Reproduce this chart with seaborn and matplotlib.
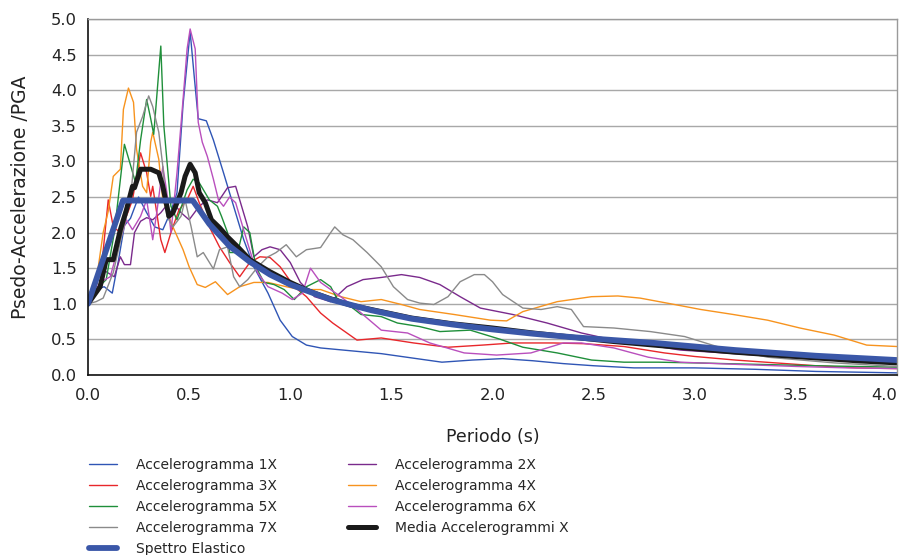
import matplotlib
matplotlib.use("Agg")
import matplotlib.pyplot as plt
import seaborn as sns
import numpy as np

# ---------------- data ----------------
T1 = [0, 0.04, 0.08, 0.12, 0.15, 0.18, 0.21, 0.25, 0.29, 0.33, 0.37, 0.41, 0.44, 0.47, 0.505, 0.525, 0.545, 0.585, 0.62, 0.67, 0.72, 0.77, 0.82, 0.89, 0.95, 1.01, 1.08, 1.15, 1.3, 1.45, 1.6, 1.75, 1.9, 2.05, 2.2, 2.35, 2.5, 2.7, 3.0, 3.3, 3.6, 3.8, 4.0]
A1 = [1.0, 1.2, 1.24, 1.15, 1.6, 2.1, 2.2, 2.5, 2.28, 2.08, 2.04, 2.3, 2.56, 3.8, 4.82, 4.2, 3.6, 3.57, 3.3, 2.84, 2.37, 1.9, 1.52, 1.15, 0.77, 0.54, 0.42, 0.38, 0.34, 0.30, 0.24, 0.18, 0.21, 0.23, 0.2, 0.16, 0.13, 0.10, 0.10, 0.08, 0.05, 0.04, 0.03]

T2 = [0, 0.03, 0.06, 0.09, 0.13, 0.16, 0.18, 0.21, 0.23, 0.26, 0.29, 0.32, 0.36, 0.41, 0.46, 0.5, 0.55, 0.59, 0.64, 0.69, 0.73, 0.75, 0.79, 0.82, 0.86, 0.9, 0.95, 1.0, 1.05, 1.12, 1.2, 1.28, 1.36, 1.45, 1.55, 1.64, 1.74, 1.84, 1.94, 2.1, 2.27, 2.44, 2.6, 2.77, 2.93, 3.2, 3.5, 3.75, 4.0]
A2 = [1.0, 1.2, 1.5, 1.45, 1.38, 1.66, 1.55, 1.55, 2.0, 2.16, 2.21, 2.18, 2.28, 2.46, 2.28, 2.18, 2.37, 2.46, 2.42, 2.63, 2.65, 2.46, 2.08, 1.66, 1.76, 1.8, 1.76, 1.58, 1.3, 1.1, 1.03, 1.24, 1.34, 1.37, 1.41, 1.37, 1.27, 1.1, 0.94, 0.85, 0.73, 0.59, 0.49, 0.42, 0.35, 0.3, 0.24, 0.2, 0.17]

T3 = [0, 0.04, 0.07, 0.1, 0.125, 0.16, 0.19, 0.22, 0.26, 0.29, 0.31, 0.32, 0.36, 0.38, 0.41, 0.45, 0.49, 0.52, 0.55, 0.6, 0.65, 0.7, 0.75, 0.8, 0.85, 0.9, 0.95, 1.02, 1.08, 1.15, 1.21, 1.28, 1.33, 1.45, 1.61, 1.78, 1.95, 2.1, 2.3, 2.45, 2.65, 2.85, 3.0, 3.2, 3.4, 3.6, 3.8, 4.0]
A3 = [1.0, 1.24, 1.6, 2.46, 2.08, 2.0, 2.23, 2.46, 3.12, 2.84, 2.51, 2.65, 1.9, 1.72, 2.0, 2.32, 2.46, 2.65, 2.42, 2.08, 1.8, 1.58, 1.38, 1.58, 1.66, 1.65, 1.52, 1.24, 1.1, 0.87, 0.73, 0.59, 0.49, 0.52, 0.45, 0.39, 0.42, 0.45, 0.45, 0.44, 0.4, 0.31, 0.26, 0.21, 0.17, 0.13, 0.1, 0.09]

T4 = [0, 0.03, 0.075, 0.1, 0.125, 0.16, 0.175, 0.2, 0.225, 0.24, 0.27, 0.29, 0.31, 0.32, 0.35, 0.37, 0.42, 0.47, 0.5, 0.54, 0.58, 0.63, 0.69, 0.75, 0.82, 0.89, 0.98, 1.05, 1.15, 1.25, 1.35, 1.45, 1.55, 1.64, 1.81, 1.99, 2.07, 2.15, 2.32, 2.49, 2.62, 2.73, 2.9, 3.03, 3.19, 3.36, 3.52, 3.69, 3.85, 4.0]
A4 = [1.0, 1.1, 2.0, 2.3, 2.79, 2.89, 3.73, 4.03, 3.83, 3.17, 2.65, 2.56, 3.27, 3.41, 3.03, 2.46, 2.08, 1.76, 1.52, 1.27, 1.23, 1.31, 1.13, 1.24, 1.3, 1.3, 1.24, 1.2, 1.2, 1.1, 1.03, 1.06, 0.99, 0.92, 0.85, 0.77, 0.76, 0.89, 1.03, 1.1, 1.11, 1.08, 0.99, 0.92, 0.85, 0.77, 0.66, 0.56, 0.42, 0.4]

T5 = [0, 0.04, 0.09, 0.13, 0.18, 0.21, 0.235, 0.26, 0.29, 0.31, 0.325, 0.36, 0.375, 0.41, 0.44, 0.49, 0.52, 0.55, 0.6, 0.64, 0.66, 0.69, 0.7, 0.74, 0.77, 0.8, 0.83, 0.87, 0.92, 0.97, 1.02, 1.08, 1.15, 1.2, 1.23, 1.3, 1.35, 1.45, 1.53, 1.64, 1.74, 1.89, 2.04, 2.15, 2.32, 2.49, 2.65, 2.82, 3.0, 3.3, 3.6, 4.0]
A5 = [1.0, 1.2, 1.34, 2.0, 3.24, 2.95, 2.7, 3.3, 3.87, 3.6, 3.38, 4.62, 3.5, 2.37, 2.18, 2.6, 2.75, 2.7, 2.46, 2.37, 2.23, 2.0, 1.72, 1.72, 2.08, 2.0, 1.52, 1.3, 1.27, 1.2, 1.06, 1.24, 1.34, 1.24, 1.08, 0.96, 0.85, 0.82, 0.73, 0.68, 0.61, 0.63, 0.5, 0.39, 0.31, 0.21, 0.18, 0.18, 0.17, 0.15, 0.13, 0.11]

T6 = [0, 0.03, 0.06, 0.11, 0.16, 0.19, 0.22, 0.26, 0.29, 0.32, 0.34, 0.37, 0.39, 0.41, 0.44, 0.47, 0.49, 0.505, 0.53, 0.545, 0.565, 0.59, 0.62, 0.645, 0.67, 0.7, 0.73, 0.78, 0.81, 0.84, 0.89, 0.96, 1.01, 1.06, 1.1, 1.15, 1.25, 1.33, 1.45, 1.58, 1.69, 1.86, 2.02, 2.19, 2.35, 2.44, 2.6, 2.77, 2.93, 3.2, 3.5, 3.75, 4.0]
A6 = [1.0, 1.15, 1.3, 1.38, 1.9, 2.18, 2.04, 2.23, 2.46, 1.9, 2.28, 2.93, 2.56, 2.0, 2.84, 3.87, 4.58, 4.86, 4.58, 3.55, 3.27, 3.07, 2.75, 2.46, 2.37, 2.5, 2.42, 1.94, 1.66, 1.43, 1.24, 1.15, 1.06, 1.15, 1.5, 1.3, 1.1, 0.92, 0.63, 0.59, 0.45, 0.31, 0.28, 0.31, 0.45, 0.45, 0.38, 0.25, 0.18, 0.15, 0.12, 0.1, 0.09]

T7 = [0, 0.04, 0.075, 0.125, 0.17, 0.21, 0.24, 0.27, 0.3, 0.32, 0.35, 0.37, 0.39, 0.42, 0.46, 0.48, 0.51, 0.54, 0.57, 0.62, 0.65, 0.69, 0.72, 0.75, 0.79, 0.84, 0.89, 0.93, 0.98, 1.03, 1.08, 1.15, 1.2, 1.22, 1.26, 1.31, 1.38, 1.45, 1.51, 1.58, 1.64, 1.71, 1.78, 1.84, 1.91, 1.96, 2.0, 2.05, 2.15, 2.24, 2.32, 2.39, 2.45, 2.6, 2.78, 2.95, 3.11, 3.36, 3.69, 4.0]
A7 = [1.0, 1.03, 1.08, 1.44, 2.0, 2.46, 3.41, 3.63, 3.92, 3.77, 3.41, 2.93, 2.23, 2.08, 2.23, 2.46, 2.08, 1.66, 1.72, 1.49, 1.76, 1.8, 1.38, 1.24, 1.34, 1.52, 1.66, 1.72, 1.83, 1.66, 1.76, 1.79, 2.0, 2.08, 1.97, 1.9, 1.72, 1.52, 1.24, 1.06, 1.01, 0.99, 1.1, 1.31, 1.41, 1.41, 1.31, 1.13, 0.94, 0.92, 0.96, 0.92, 0.68, 0.66, 0.61, 0.54, 0.4, 0.25, 0.17, 0.12]

T_media = [0, 0.06, 0.09, 0.125, 0.16, 0.19, 0.22, 0.23, 0.26, 0.31, 0.35, 0.37, 0.4, 0.42, 0.46, 0.48, 0.505, 0.53, 0.55, 0.58, 0.61, 0.65, 0.69, 0.74, 0.8, 0.9, 1.0, 1.1, 1.2, 1.3, 1.4, 1.5, 1.6, 1.7, 1.8, 1.9, 2.0, 2.2, 2.4, 2.6, 2.8, 3.0, 3.2, 3.4, 3.6, 3.8, 4.0]
A_media = [1.0, 1.24, 1.62, 1.62, 2.04, 2.32, 2.65, 2.63, 2.89, 2.89, 2.84, 2.65, 2.23, 2.28, 2.56, 2.79, 2.96, 2.84, 2.56, 2.42, 2.18, 2.07, 1.94, 1.8, 1.62, 1.45, 1.3, 1.17, 1.07, 0.98, 0.92, 0.86, 0.8, 0.76, 0.72, 0.69, 0.66, 0.59, 0.53, 0.47, 0.42, 0.37, 0.32, 0.28, 0.24, 0.2, 0.17]

T_spettro = [0, 0.173, 0.518, 0.6, 0.7, 0.8, 0.9, 1.0, 1.2, 1.4, 1.6, 1.8, 2.0, 2.2, 2.4, 2.6, 2.8, 3.0, 3.2, 3.4, 3.6, 3.8, 4.0]
A_spettro = [1.0, 2.45, 2.45, 2.12, 1.81, 1.59, 1.41, 1.27, 1.06, 0.91, 0.79, 0.71, 0.64, 0.58, 0.53, 0.49, 0.45, 0.40, 0.35, 0.31, 0.27, 0.24, 0.21]

x_ticks = [0.0, 0.5, 1.0, 1.5, 2.0, 2.5, 3.0, 3.5, 4.0]
y_ticks = [0.0, 0.5, 1.0, 1.5, 2.0, 2.5, 3.0, 3.5, 4.0, 4.5, 5.0]

series = [
    ("Accelerogramma 1X", T1, A1, "#2f55b5", 1.0),
    ("Accelerogramma 2X", T2, A2, "#7a2a8c", 1.0),
    ("Accelerogramma 3X", T3, A3, "#e8272b", 1.0),
    ("Accelerogramma 4X", T4, A4, "#f7931e", 1.0),
    ("Accelerogramma 5X", T5, A5, "#1f8f3a", 1.0),
    ("Accelerogramma 6X", T6, A6, "#b94fbd", 1.0),
    ("Accelerogramma 7X", T7, A7, "#8a8a8a", 1.0),
    ("Media Accelerogrammi X", T_media, A_media, "#1a1a1a", 3.6),
    ("Spettro Elastico", T_spettro, A_spettro, "#3a57a8", 4.2),
]

# ---------------- plot ----------------
sns.set_theme(style="white")
plt.rcParams["font.family"] = ["DejaVu Sans"]

fig = plt.figure(figsize=(9.03, 5.55), dpi=100)
ax = fig.add_axes([88 / 903, 1 - 375 / 555, (897 - 88) / 903, (375 - 19) / 555])

handles = {}
for name, t, a, col, lw in series:
    sns.lineplot(x=t, y=a, ax=ax, color=col, linewidth=lw, label=name,
                 estimator=None, sort=False)
if ax.get_legend() is not None:
    ax.get_legend().remove()
for line in ax.get_lines():
    handles[line.get_label()] = line

ax.set_xlim(0, 4.0)
ax.set_ylim(0, 5.0)
ax.set_xticks(x_ticks)
ax.set_yticks(y_ticks)
ax.set_xticklabels([f"{v:.1f}" for v in x_ticks])
ax.set_yticklabels([f"{v:.1f}" for v in y_ticks])
ax.tick_params(axis="both", labelsize=11.8, colors="#222222", direction="out",
               length=4, width=1, pad=4)
ax.tick_params(axis="x", pad=5)
# keep the last x label inside the figure, as in the reference
ax.get_xticklabels()[-1].set_horizontalalignment("right")

ax.yaxis.grid(True, color="#a8a8a8", linewidth=1.0)
ax.xaxis.grid(False)
ax.set_axisbelow(True)

for s in ["left", "bottom"]:
    ax.spines[s].set_color("#111111")
    ax.spines[s].set_linewidth(1.2)
for s in ["top", "right"]:
    ax.spines[s].set_color("#9a9a9a")
    ax.spines[s].set_linewidth(1.0)

ax.set_xlabel("Periodo (s)", fontsize=12.5, color="#222222", labelpad=18)
ax.set_ylabel("Psedo-Accelerazione /PGA", fontsize=13.5, color="#222222", labelpad=15)

order = ["Accelerogramma 1X", "Accelerogramma 3X", "Accelerogramma 5X",
         "Accelerogramma 7X", "Spettro Elastico",
         "Accelerogramma 2X", "Accelerogramma 4X", "Accelerogramma 6X",
         "Media Accelerogrammi X"]
fig.legend([handles[k] for k in order], order, loc="upper left",
           bbox_to_anchor=(86 / 903, 1 - 455 / 555), ncol=2, frameon=False,
           fontsize=10, handlelength=2.0, handletextpad=1.4,
           columnspacing=5.1, labelspacing=0.5, borderaxespad=0,
           borderpad=0.2)

fig.savefig("out.png", dpi=100)
